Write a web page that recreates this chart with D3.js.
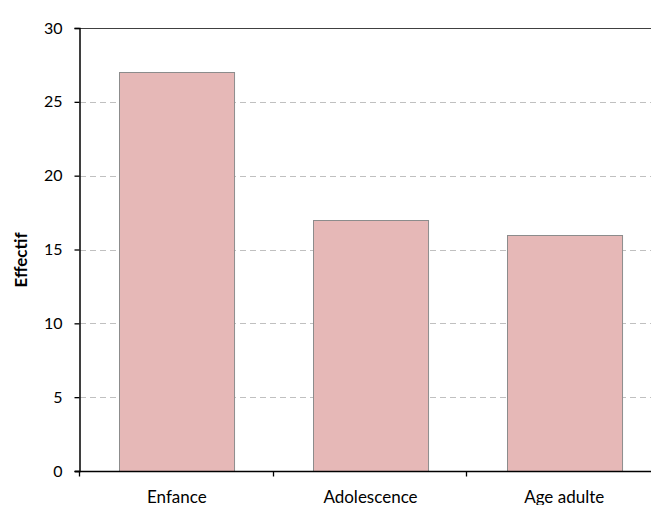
<!DOCTYPE html>
<html>
<head>
<meta charset="utf-8">
<script src="https://cdn.jsdelivr.net/npm/d3@7"></script>
<style>
  html, body { margin: 0; padding: 0; background: #fff; overflow: hidden; }
  svg { display: block; font-family: Lato, "Open Sans", sans-serif; }
</style>
</head>
<body>
<svg id="chart" width="651" height="505"></svg>
<script>
// Effectif par période de la vie
const categories = ["Enfance", "Adolescence", "Age adulte"];
const effectifs = [27, 17, 16];
const yTicks = [0, 5, 10, 15, 20, 25, 30];
const yLabel = "Effectif";

const svg = d3.select("#chart");
const margin = { left: 80, top: 28, bottom: 34 };
const plotRight = 661;   // the plot area runs past the right edge
const height = 505;

const x = d3.scaleBand()
  .domain(categories)
  .range([margin.left, plotRight])
  .paddingInner(0.406)
  .paddingOuter(0.203);

const y = d3.scaleLinear()
  .domain([0, 30])
  .range([height - margin.bottom, margin.top]);

// gridlines
svg.append("g")
  .selectAll("line")
  .data(yTicks.filter(t => t > 0 && t < 30))
  .join("line")
  .attr("x1", margin.left).attr("x2", plotRight)
  .attr("y1", d => Math.round(y(d)) + 0.5).attr("y2", d => Math.round(y(d)) + 0.5)
  .attr("stroke", "#c0c0c0")
  .attr("stroke-dasharray", "6,4");

// top border
svg.append("line")
  .attr("x1", margin.left).attr("x2", plotRight)
  .attr("y1", Math.round(y(30)) + 0.5).attr("y2", Math.round(y(30)) + 0.5)
  .attr("stroke", "#404040").attr("stroke-width", 1.2);

// bars
svg.append("g")
  .selectAll("rect")
  .data(categories.map((c, i) => ({ c, v: effectifs[i] })))
  .join("rect")
  .attr("x", d => Math.round(x(d.c)) + 0.5)
  .attr("y", d => Math.round(y(d.v)) + 0.5)
  .attr("width", x.bandwidth())
  .attr("height", d => Math.round(y(0)) - Math.round(y(d.v)))
  .attr("fill", "#e6b8b7")
  .attr("stroke", "#8c8c8c")
  .attr("stroke-width", 1);

// y axis
const yAxis = svg.append("g")
  .attr("transform", `translate(${margin.left - 0.5},0)`)
  .call(d3.axisLeft(y).tickValues(yTicks).tickSize(5).tickPadding(12));
yAxis.select(".domain").attr("stroke", "#000").attr("stroke-width", 1.5);
yAxis.selectAll(".tick line").attr("stroke", "#000").attr("stroke-width", 1.3);
yAxis.selectAll(".tick text").attr("font-size", 16).attr("fill", "#000")
  .attr("font-family", "Lato, 'Open Sans', sans-serif");

// x axis with ticks on category boundaries
const xAxisG = svg.append("g")
  .attr("transform", `translate(0,${Math.round(y(0)) + 0.5})`);
xAxisG.append("line")
  .attr("x1", margin.left - 5).attr("x2", plotRight)
  .attr("stroke", "#000").attr("stroke-width", 1.5);
const boundaries = d3.range(categories.length + 1).map(i => margin.left + i * (plotRight - margin.left) / categories.length);
xAxisG.selectAll("line.tk")
  .data(boundaries)
  .join("line")
  .attr("class", "tk")
  .attr("x1", d => Math.round(d) - 0.5).attr("x2", d => Math.round(d) - 0.5)
  .attr("y1", 0).attr("y2", 5)
  .attr("stroke", "#000").attr("stroke-width", 1.3);
xAxisG.selectAll("text")
  .data(categories)
  .join("text")
  .attr("x", d => x(d) + x.bandwidth() / 2)
  .attr("y", 31)
  .attr("text-anchor", "middle")
  .attr("font-size", 17)
  .attr("fill", "#000")
  .text(d => d);

// y label
svg.append("text")
  .attr("transform", "translate(27,260) rotate(-90)")
  .attr("text-anchor", "middle")
  .attr("font-size", 17)
  .attr("font-weight", "bold")
  .text(yLabel);
</script>
</body>
</html>
